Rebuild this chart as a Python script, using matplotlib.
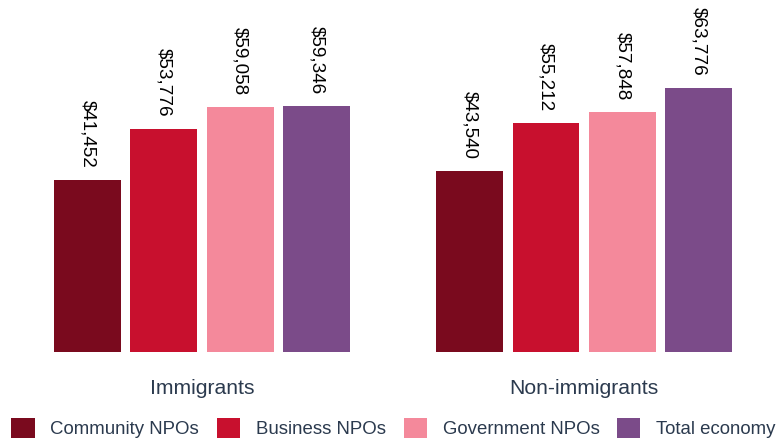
import numpy as np
import matplotlib.pyplot as plt
from matplotlib.patches import Patch

plt.rcParams['font.family'] = ['Liberation Sans', 'DejaVu Sans']

groups = ['Immigrants', 'Non-immigrants']
series = ['Community NPOs', 'Business NPOs', 'Government NPOs', 'Total economy']
colors = ['#7a0a1e', '#c8102e', '#f4899b', '#7b4b89']
values = {
    'Community NPOs': [41452, 43540],
    'Business NPOs': [53776, 55212],
    'Government NPOs': [59058, 57848],
    'Total economy': [59346, 63776],
}

text_col = '#2b3a4e'

fig = plt.figure(figsize=(7.79, 4.40), dpi=100)
ax = fig.add_axes([0, 0.2, 1, 0.8])

x = np.arange(len(groups))
step = 0.2
width = 0.175
for i, name in enumerate(series):
    pos = x + (i - 1.5) * step
    bars = ax.bar(pos, values[name], width, color=colors[i], label=name)
    for b, v in zip(bars, values[name]):
        ax.text(b.get_x() + b.get_width() / 2, v + 2900, f'${v:,}',
                rotation=270, ha='center', va='bottom', fontsize=13.6,
                color='black')

ax.set_xlim(-0.529, 1.510)
ax.set_ylim(0, 84900)
ax.axis('off')

for gx, g in zip(x, groups):
    fig.text((gx + 0.529) / 2.039, 1 - 388 / 440, g, ha='center', va='center',
             fontsize=15.2, color=text_col)

handles = [Patch(facecolor=c, edgecolor='none') for c in colors]
fig.legend(handles, series, loc='center',
           bbox_to_anchor=(0.5 + 4 / 779, 1 - 428 / 440),
           ncol=4, frameon=False, fontsize=13.4, labelcolor=text_col,
           handlelength=1.25, handleheight=1.25, handletextpad=0.85,
           columnspacing=0.95, borderaxespad=0, borderpad=0)

fig.savefig('out.png', dpi=100)
